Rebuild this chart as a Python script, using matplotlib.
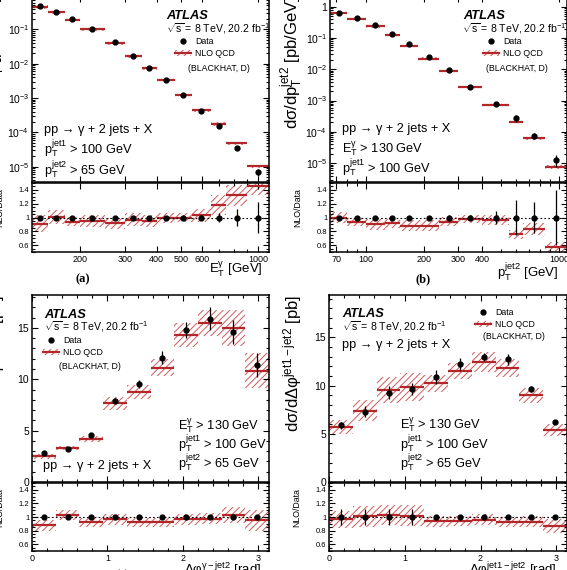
import numpy as np
import matplotlib
matplotlib.use("Agg")
import matplotlib.pyplot as plt
from matplotlib.lines import Line2D
from matplotlib.patches import Patch
from matplotlib.ticker import (FixedLocator, FuncFormatter, LogLocator,
                               MultipleLocator, NullFormatter)

# (a) photon E_T
et_edges = [130, 150, 175, 200, 250, 300, 350, 400, 470, 550, 650, 750, 900, 1100]
et_data = [0.48, 0.31, 0.20, 0.104, 0.042, 0.017, 0.0077, 0.0033, 0.00125,
           0.00043, 0.00015, 3.6e-5, 7e-6]
et_ratio = [0.91, 1.01, 0.94, 0.95, 0.92, 0.97, 0.95, 0.99, 1.0, 1.03, 1.18, 1.32, 1.46]
et_band = [0.12, 0.10, 0.065, 0.09, 0.08, 0.10, 0.085, 0.07, 0.06, 0.09, 0.14, 0.15, 0.13]
et_err = [0.02, 0.02, 0.02, 0.02, 0.02, 0.02, 0.02, 0.025, 0.03, 0.04, 0.07, 0.12, 0.22]

# (b) sub-leading jet pT
pt_edges = [65, 80, 100, 125, 150, 185, 240, 300, 400, 550, 650, 850, 1100]
pt_data = [0.61, 0.45, 0.26, 0.131, 0.063, 0.025, 0.0093, 0.0028, 0.00076,
           0.00027, 7.4e-5, 1.3e-5]
pt_ratio = [1.0, 0.93, 0.90, 0.92, 0.88, 0.88, 0.94, 0.98, 0.96, 0.76, 0.83, 0.57]
pt_band = [0.075, 0.06, 0.08, 0.065, 0.08, 0.08, 0.065, 0.06, 0.07, 0.065, 0.09, 0.08]
pt_err = [0.02, 0.02, 0.02, 0.02, 0.02, 0.02, 0.03, 0.04, 0.10, 0.25, 0.22, 0.40]

# (c) dphi(photon, jet2) and (d) dphi(jet1, jet2), ten bins of pi/10
dphi_edges = np.pi * np.arange(11) / 10
c_data = [2.85, 3.21, 4.56, 7.93, 9.51, 12.1, 14.8, 15.9, 14.6, 11.4]
c_ratio = [0.88, 1.03, 0.92, 0.965, 0.92, 0.92, 0.965, 0.975, 1.025, 0.95]
c_band = [0.08, 0.07, 0.06, 0.08, 0.07, 0.07, 0.08, 0.08, 0.12, 0.15]
c_err = [0.035, 0.03, 0.03, 0.035, 0.04, 0.05, 0.055, 0.07, 0.08, 0.10]
c_rerr = [0.03, 0.03, 0.03, 0.03, 0.03, 0.03, 0.03, 0.03, 0.03, 0.03]

d_data = [5.9, 7.31, 9.26, 9.65, 10.88, 12.26, 12.97, 12.72, 9.65, 6.25]
d_ratio = [0.965, 1.01, 1.03, 1.02, 0.94, 0.94, 0.96, 0.93, 0.93, 0.87]
d_band = [0.12, 0.15, 0.15, 0.15, 0.08, 0.07, 0.08, 0.07, 0.08, 0.10]
d_err = [0.06, 0.075, 0.075, 0.06, 0.07, 0.05, 0.035, 0.045, 0.035, 0.015]
d_rerr = [0.12, 0.12, 0.12, 0.12, 0.02, 0.02, 0.02, 0.02, 0.02, 0.02]

W, H = 567, 570
RED = "#b3262a"
HCOL = "#d05a5a"
HATCH = "/////"

plt.rc("font", family=["Liberation Sans", "DejaVu Sans"])
plt.rc("mathtext", fontset="custom", rm="Liberation Sans",
       it="Liberation Sans:italic", bf="Liberation Sans:bold")
plt.rc("hatch", linewidth=0.7, color=HCOL)
plt.rc("axes", linewidth=1.1)

fig = plt.figure(figsize=(W / 100, H / 100), dpi=100)


def add_ax(x0, y0, x1, y1):
    return fig.add_axes([x0 / W, 1 - y1 / H, (x1 - x0) / W, (y1 - y0) / H])


def ftext(x, y, s, **kw):
    fig.text(x / W, 1 - y / H, s, va="baseline", **kw)


def style(ax):
    ax.tick_params(which="both", direction="in", top=True, right=True, width=0.8)
    ax.tick_params(which="major", length=4.5, pad=2)
    ax.tick_params(which="minor", length=2.3)


def draw_nlo(ax, edges, val, half):
    ax.bar(edges[:-1], 2 * half, width=np.diff(edges), bottom=val - half,
           align="edge", facecolor="none", edgecolor=HCOL, hatch=HATCH,
           linewidth=0, zorder=1)
    ax.hlines(val, edges[:-1], edges[1:], color=RED, lw=1.6, zorder=2)


def log_fmt(v, pos):
    e = int(round(np.log10(v)))
    return "1" if e == 0 else r"$\mathregular{10^{%d}}$" % e


def panel(main_box, ratio_box, edges, data, ratio, band, err, rerr, log):
    edges = np.asarray(edges, float)
    data = np.asarray(data)
    ratio = np.asarray(ratio)
    band = np.asarray(band)
    if log:
        cen = np.sqrt(edges[:-1] * edges[1:])
    else:
        cen = 0.5 * (edges[:-1] + edges[1:])

    ax = add_ax(*main_box)
    rx = add_ax(*ratio_box)
    if log:
        ax.set_yscale("log")
    for a in (ax, rx):
        if log:
            a.set_xscale("log")
        a.set_xlim(edges[0], edges[-1])
        style(a)

    draw_nlo(ax, edges, data * ratio, data * band)
    ax.errorbar(cen, data, yerr=data * np.asarray(err), fmt="o", color="k",
                ms=3.5, elinewidth=0.9, capsize=0, zorder=3)
    ax.tick_params(labelbottom=False, labelsize=7.5)

    draw_nlo(rx, edges, ratio, band)
    rx.axhline(1, color="k", ls=(0, (1.5, 2)), lw=0.8, zorder=2)
    rx.errorbar(cen, data / data, yerr=np.asarray(rerr), fmt="o", color="k",
                ms=3.5, elinewidth=0.9, capsize=0, zorder=3)
    rx.set_ylim(0.5, 1.5)
    rx.yaxis.set_major_locator(FixedLocator([0.6, 0.8, 1.0, 1.2, 1.4]))
    rx.yaxis.set_major_formatter(FuncFormatter(lambda v, p: "%g" % v))
    rx.yaxis.set_minor_locator(MultipleLocator(0.05))
    rx.tick_params(axis="y", labelsize=5.5)
    rx.tick_params(axis="x", labelsize=6.5)
    rx.set_ylabel("NLO/Data", fontsize=6.3, loc="top")
    rx.yaxis.set_label_coords(-0.118, 0.93)
    ax.yaxis.set_label_coords(-0.105, 1.0)
    return ax, rx


def legend(ax, x, y):
    h_data = Line2D([], [], ls="none", marker="o", color="k", ms=3.5)
    h_nlo = (Patch(facecolor="none", edgecolor=HCOL, hatch=HATCH, lw=0),
             Line2D([], [], color=RED, lw=1.6))
    ax.legend([h_data, h_nlo], ["Data", "NLO QCD"], loc="upper left",
              bbox_to_anchor=(x / W, 1 - y / H), bbox_transform=fig.transFigure,
              frameon=False, fontsize=6.3, handlelength=1.8, handleheight=0.7,
              handletextpad=0.5, labelspacing=0.3, borderpad=0, borderaxespad=0)


sqrt_s = r"$\sqrt{\mathrm{s}}$ = 8 TeV, 20.2 fb$^{\mathrm{-1}}$"
proc = "pp \u2192 \u03b3 + 2 jets + X"
cut_et = r"$\mathregular{E_T^{\gamma}}$ > 130 GeV"
cut_j1 = r"$\mathregular{p_T^{jet1}}$ > 100 GeV"
cut_j2 = r"$\mathregular{p_T^{jet2}}$ > 65 GeV"
FS_TXT = 9.2
FS_S = 7.6

# ---------- (a)
ax, rx = panel((32, -4, 269, 182), (32, 183, 269, 252), et_edges, et_data,
               et_ratio, et_band, et_err, et_err, True)
ax.set_ylim(3.6e-6, 0.93)
for a in (ax, rx):
    a.xaxis.set_major_locator(FixedLocator([200, 300, 400, 500, 600, 1000]))
    a.xaxis.set_minor_locator(FixedLocator([700, 800, 900]))
    a.xaxis.set_minor_formatter(NullFormatter())
rx.xaxis.set_major_formatter(FuncFormatter(lambda v, p: "%d" % v))
ax.yaxis.set_major_locator(LogLocator(base=10, numticks=20))
ax.yaxis.set_minor_locator(LogLocator(base=10, subs=np.arange(2, 10), numticks=20))
ax.yaxis.set_major_formatter(FuncFormatter(log_fmt))
ax.yaxis.set_minor_formatter(NullFormatter())
ax.set_ylabel(r"$\mathregular{d\sigma/dE_T^{\gamma}}$ [pb/GeV]", fontsize=12, loc="top")
rx.set_xlabel(r"$\mathregular{E_T^{\gamma}}$ [GeV]", fontsize=9.5, loc="right")
rx.xaxis.set_label_coords(0.975, -0.12)
legend(ax, 175, 37)
ftext(166, 19, "ATLAS", fontsize=9.3, weight="bold", style="italic")
ftext(166, 33, sqrt_s, fontsize=FS_S)
ftext(188, 71, "(BLACKHAT, D)", fontsize=6.3)
ftext(44, 133, proc, fontsize=FS_TXT)
ftext(44, 154, cut_j1, fontsize=FS_TXT)
ftext(44, 175, cut_j2, fontsize=FS_TXT)
ftext(83, 282, "(a)", fontsize=9, weight="bold", family="Liberation Serif", ha="center")

# ---------- (b)
ax, rx = panel((330, -4, 567, 182), (330, 183, 567, 252), pt_edges, pt_data,
               pt_ratio, pt_band, pt_err, pt_err, True)
ax.set_ylim(2.5e-6, 2.2)
for a in (ax, rx):
    a.xaxis.set_major_locator(FixedLocator([70, 100, 200, 300, 400, 1000]))
    a.xaxis.set_minor_locator(FixedLocator([80, 90, 500, 600, 700, 800, 900]))
    a.xaxis.set_minor_formatter(NullFormatter())
rx.xaxis.set_major_formatter(FuncFormatter(lambda v, p: "%d" % v))
ax.yaxis.set_major_locator(LogLocator(base=10, numticks=20))
ax.yaxis.set_minor_locator(LogLocator(base=10, subs=np.arange(2, 10), numticks=20))
ax.yaxis.set_major_formatter(FuncFormatter(log_fmt))
ax.yaxis.set_minor_formatter(NullFormatter())
ax.set_ylabel(r"$\mathregular{d\sigma/dp_T^{jet2}}$ [pb/GeV]", fontsize=12, loc="top")
rx.set_xlabel(r"$\mathregular{p_T^{jet2}}$ [GeV]", fontsize=9.5, loc="right")
rx.xaxis.set_label_coords(0.962, -0.13)
legend(ax, 483, 37)
ftext(463, 19, "ATLAS", fontsize=9.3, weight="bold", style="italic")
ftext(462, 33, sqrt_s, fontsize=FS_S)
ftext(486, 71, "(BLACKHAT, D)", fontsize=6.3)
ftext(342, 132, proc, fontsize=FS_TXT)
ftext(342, 153, cut_et, fontsize=FS_TXT)
ftext(342, 173, cut_j1, fontsize=FS_TXT)
ftext(423, 282, "(b)", fontsize=9, weight="bold", family="Liberation Serif", ha="center")

# ---------- (c)
ax, rx = panel((32, 295, 269, 482), (32, 483, 269, 551), dphi_edges, c_data,
               c_ratio, c_band, c_err, c_rerr, False)
ax.set_ylim(0, 18.2)
for a in (ax, rx):
    a.xaxis.set_major_locator(MultipleLocator(1))
    a.xaxis.set_minor_locator(MultipleLocator(0.2))
ax.yaxis.set_major_locator(MultipleLocator(5))
ax.yaxis.set_minor_locator(MultipleLocator(1))
ax.set_ylabel(r"$\mathregular{d\sigma/d\Delta\varphi^{\gamma-jet2}}$ [pb]", fontsize=12, loc="top")
rx.set_xlabel(r"$\mathregular{\Delta\varphi^{\gamma-jet2}}$ [rad]", fontsize=9.5, loc="right")
rx.xaxis.set_label_coords(0.966, -0.14)
legend(ax, 43, 336)
ftext(44, 318, "ATLAS", fontsize=9.3, weight="bold", style="italic")
ftext(44, 330, sqrt_s, fontsize=FS_S)
ftext(59, 369, "(BLACKHAT, D)", fontsize=6.3)
ftext(43, 469, proc, fontsize=FS_TXT)
ftext(178, 430, cut_et, fontsize=FS_TXT)
ftext(178, 449, cut_j1, fontsize=FS_TXT)
ftext(178, 468, cut_j2, fontsize=FS_TXT)
ftext(122, 578, "(c)", fontsize=9, weight="bold", family="Liberation Serif", ha="center")

# ---------- (d)
ax, rx = panel((329, 295, 567, 482), (329, 483, 567, 551), dphi_edges, d_data,
               d_ratio, d_band, d_err, d_rerr, False)
ax.set_ylim(0, 19.4)
for a in (ax, rx):
    a.xaxis.set_major_locator(MultipleLocator(1))
    a.xaxis.set_minor_locator(MultipleLocator(0.2))
ax.yaxis.set_major_locator(MultipleLocator(5))
ax.yaxis.set_minor_locator(MultipleLocator(1))
ax.set_ylabel(r"$\mathregular{d\sigma/d\Delta\varphi^{jet1-jet2}}$ [pb]", fontsize=12, loc="top")
rx.set_xlabel(r"$\mathregular{\Delta\varphi^{jet1-jet2}}$ [rad]", fontsize=9.5, loc="right")
rx.xaxis.set_label_coords(0.958, -0.14)
legend(ax, 475, 308)
ftext(342, 317, "ATLAS", fontsize=9.3, weight="bold", style="italic")
ftext(342, 331, sqrt_s, fontsize=FS_S)
ftext(483, 339, "(BLACKHAT, D)", fontsize=6.3)
ftext(342, 348, proc, fontsize=FS_TXT)
ftext(400, 429, cut_et, fontsize=FS_TXT)
ftext(400, 449, cut_j1, fontsize=FS_TXT)
ftext(400, 468, cut_j2, fontsize=FS_TXT)
ftext(372, 578, "(d)", fontsize=9, weight="bold", family="Liberation Serif", ha="center")

fig.savefig("out.png", dpi=100)
